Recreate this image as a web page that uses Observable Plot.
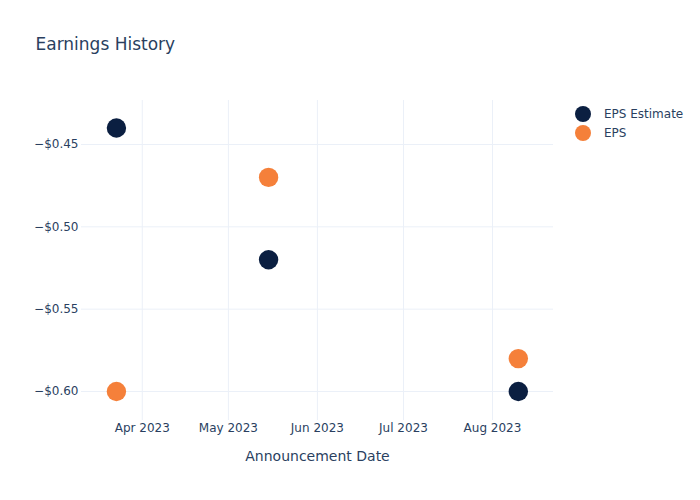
<!DOCTYPE html>
<html>
<head>
<meta charset="utf-8">
<script src="https://cdn.jsdelivr.net/npm/d3@7"></script>
<script src="https://cdn.jsdelivr.net/npm/@observablehq/plot@0.6"></script>
<style>
  body { margin: 0; background: white; font-family: "DejaVu Sans", sans-serif; }
  #wrap { position: relative; width: 700px; height: 500px; }
  #legend { position: absolute; left: 575px; top: 104.5px; font-size: 12px; color: #2a3f5f; }
  .row { display: flex; align-items: center; height: 19px; }
  .sw { width: 16px; height: 16px; border-radius: 50%; margin-right: 13px; }
</style>
</head>
<body>
<div id="wrap"><div id="legend"></div></div>
<script>
const announcementDates = ["2023-03-23", "2023-05-15", "2023-08-10"];
const epsEstimate = [-0.44, -0.52, -0.60];
const epsActual = [-0.60, -0.47, -0.58];
const seriesNames = ["EPS Estimate", "EPS"];
const seriesColors = ["#0b1f41", "#f5803a"];
const monthTicks = ["2023-04-01", "2023-05-01", "2023-06-01", "2023-07-01", "2023-08-01"];
const yTicks = [-0.45, -0.50, -0.55, -0.60];

const rows = [];
announcementDates.forEach((d, i) => {
  rows.push({date: new Date(d), value: epsEstimate[i], series: seriesNames[0]});
});
announcementDates.forEach((d, i) => {
  rows.push({date: new Date(d), value: epsActual[i], series: seriesNames[1]});
});
const xTicks = monthTicks.map(d => new Date(d));
const fmtY = d => (d < 0 ? "\u2212" : "") + "$" + Math.abs(d).toFixed(2);

const chart = Plot.plot({
  width: 700,
  height: 500,
  marginLeft: 81,
  marginRight: 147,
  marginTop: 100,
  marginBottom: 80,
  style: {fontFamily: "DejaVu Sans, sans-serif", fontSize: "12px", color: "#2a3f5f", background: "transparent"},
  x: {type: "utc", domain: [new Date("2023-03-10T20:00Z"), new Date("2023-08-22T06:00Z")]},
  y: {domain: [-0.6176, -0.4233]},
  color: {domain: seriesNames, range: seriesColors},
  marks: [
    Plot.gridX(xTicks, {stroke: "#ebf0f8", strokeOpacity: 1, strokeWidth: 1}),
    Plot.gridY(yTicks, {stroke: "#ebf0f8", strokeOpacity: 1, strokeWidth: 1}),
    Plot.axisX(xTicks, {tickFormat: d3.utcFormat("%b %Y"), tickSize: 0, tickPadding: 3, label: null, fill: "#2a3f5f"}),
    Plot.axisY(yTicks, {tickFormat: fmtY, tickSize: 0, tickPadding: 3, label: null, fill: "#2a3f5f"}),
    Plot.dot(rows, {x: "date", y: "value", fill: "series", r: 9.7, stroke: "none"}),
    Plot.text(["Announcement Date"], {frameAnchor: "bottom", dy: 36, lineAnchor: "middle", fontSize: 14, fill: "#2a3f5f"}),
    Plot.text(["Earnings History"], {frameAnchor: "top-left", dx: -46, dy: -56, lineAnchor: "middle", textAnchor: "start", fontSize: 17, fill: "#2a3f5f"})
  ]
});
const wrap = document.getElementById("wrap");
wrap.insertBefore(chart, wrap.firstChild);

const legend = document.getElementById("legend");
seriesNames.forEach((name, i) => {
  const row = document.createElement("div");
  row.className = "row";
  const sw = document.createElement("span");
  sw.className = "sw";
  sw.style.background = seriesColors[i];
  const label = document.createElement("span");
  label.textContent = name;
  row.appendChild(sw);
  row.appendChild(label);
  legend.appendChild(row);
});
</script>
</body>
</html>
